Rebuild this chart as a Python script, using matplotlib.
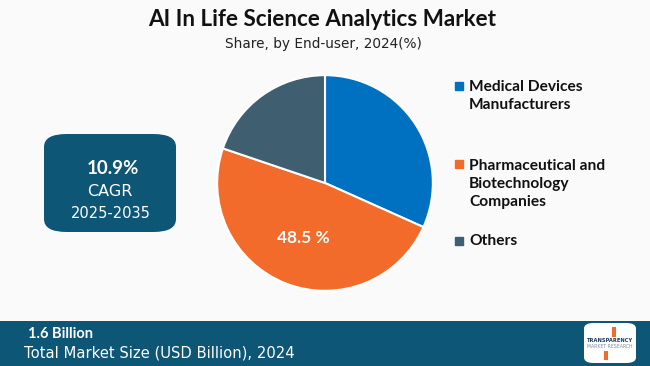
import matplotlib.pyplot as plt
from matplotlib.patches import FancyBboxPatch, Rectangle

# data
segments = ["Medical Devices\nManufacturers", "Pharmaceutical and\nBiotechnology\nCompanies", "Others"]
shares = [31.7, 48.5, 19.8]
colors = ["#0070C0", "#F26B2A", "#3F5E70"]

title = "AI In Life Science Analytics Market"
subtitle = "Share, by End-user, 2024(%)"
cagr_value = "10.9%"
cagr_period = "2025-2035"
market_size = "1.6 Billion"
market_label = "Total Market Size (USD Billion), 2024"

W, H = 650, 366
BG = "#FAFAFA"
TEAL = "#0D5676"


def px(x, y):
    # pixel coords (top-left origin) -> figure fraction
    return x / W, 1 - y / H


fig = plt.figure(figsize=(6.5, 3.66), dpi=100, facecolor=BG)

# ===== Title =====
fig.text(*px(322, 20), title, ha="center", va="center", fontsize=16.2,
         fontweight="bold", family="Lato", color="#111111")
fig.text(*px(323, 44), subtitle, ha="center", va="center", fontsize=9.8,
         family="DejaVu Sans", color="#222222")

# ===== Pie =====
cx, cy, r = 325, 183, 110
ax = fig.add_axes([(cx - r) / W, (H - cy - r) / H, 2 * r / W, 2 * r / H])
ax.set_facecolor(BG)


def pct_label(p):
    return f"{p:.1f} %" if p > 40 else ""


wedges, _, autotexts = ax.pie(
    shares,
    colors=colors,
    startangle=90,
    counterclock=False,
    autopct=pct_label,
    pctdistance=0.55,
    wedgeprops=dict(edgecolor="white", linewidth=1.5),
    textprops=dict(color="white", fontsize=12.5, fontweight="bold", family="Lato"),
)
ax.set_xlim(-1.02, 1.02)
ax.set_ylim(-1.02, 1.02)
ax.set_aspect("equal")
ax.axis("off")

# ===== Legend =====
legend_y = [96, 184, 241]
for label, col, ly in zip(segments, colors, legend_y):
    n = label.count("\n") + 1
    top = ly - (n - 1) * 20.5 / 2
    fig.patches.append(Rectangle(px(455, top + 4), 8 / W, 8 / H, color=col,
                                 transform=fig.transFigure, figure=fig))
    fig.text(*px(469, ly), label, ha="left", va="center", fontsize=11.2,
             fontweight="bold", family="Lato", color="#111111", linespacing=1.38)

# ===== CAGR box =====
bx0, by0, bx1, by1 = 44, 134, 176, 232
fig.patches.append(FancyBboxPatch(px(bx0, by1), (bx1 - bx0) / W, (by1 - by0) / H,
                                  boxstyle="round,pad=0,rounding_size=0.035",
                                  facecolor=TEAL, edgecolor="none",
                                  transform=fig.transFigure, figure=fig))
fig.text(*px(113, 169), cagr_value, ha="center", va="center", fontsize=13.5,
         fontweight="bold", family="Lato", color="white")
fig.text(*px(110, 192), "CAGR", ha="center", va="center", fontsize=11.5,
         family="DejaVu Sans", color="white")
fig.text(*px(111, 213), cagr_period, ha="center", va="center", fontsize=10.5,
         family="DejaVu Sans", color="white")

# ===== Footer =====
fig.patches.append(Rectangle(px(0, H), 1, 45 / H, facecolor=TEAL, edgecolor="none",
                             transform=fig.transFigure, figure=fig))
fig.text(*px(28, 334), market_size, ha="left", va="center", fontsize=10.5,
         fontweight="bold", family="Lato", color="white")
fig.text(*px(24, 353), market_label, ha="left", va="center", fontsize=10.6,
         family="DejaVu Sans", color="white")

# logo
fig.patches.append(FancyBboxPatch(px(584, 363), 52 / W, 40 / H,
                                  boxstyle="round,pad=0,rounding_size=0.015",
                                  facecolor="white", edgecolor="none",
                                  transform=fig.transFigure, figure=fig))
fig.text(*px(610, 341), "TRANSPARENCY", ha="center", va="center", fontsize=3.7,
         fontweight="bold", color="#1F3A5A", family="DejaVu Sans")
fig.text(*px(610, 347), "MARKET RESEARCH", ha="center", va="center", fontsize=3.3,
         color="#7A8A99", family="DejaVu Sans")
fig.patches.append(Rectangle(px(612, 337), 4 / W, 10 / H, facecolor="#F26B2A",
                             edgecolor="none", transform=fig.transFigure, figure=fig))
fig.patches.append(Rectangle(px(604, 360), 4 / W, 9 / H, facecolor="#F26B2A",
                             edgecolor="none", transform=fig.transFigure, figure=fig))

fig.savefig("out.png", dpi=100, facecolor=BG)
